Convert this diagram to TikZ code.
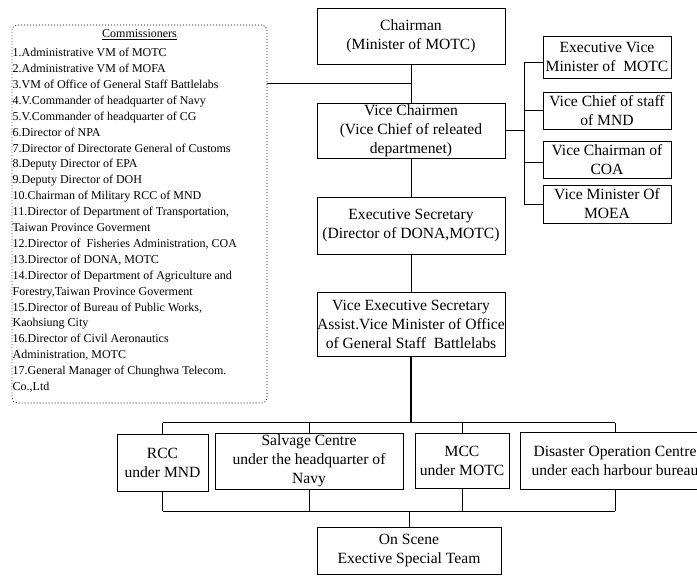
\documentclass[tikz,border=0pt]{standalone}
\usepackage{fontspec}
\setmainfont{Liberation Serif}
\tikzset{
  box/.style={draw=black, line width=0.8pt, inner sep=0pt, align=center,
    font=\fontsize{15.6}{19}\selectfont},
  link/.style={draw=black, line width=0.8pt},
  boldlink/.style={draw=black, line width=1.7pt},
  dotbox/.style={draw=black, line width=0.8pt, dash pattern=on 0.9pt off 2.1pt,
    rounded corners=5pt, inner sep=0pt},
  listtext/.style={inner sep=0pt, align=left, font=\fontsize{12}{15.9}\selectfont}
}
\begin{document}
\begin{tikzpicture}[x=1pt, y=-1pt]
\useasboundingbox (0,0) rectangle (697,576);

% commissioners panel
\node[dotbox, minimum width=255pt, minimum height=378pt] (comm) at (139.5,214) {};
\node[listtext] (commtitle) at (139.5,35) {\underline{Commissioners}};
\node[listtext, anchor=north west] (commlist) at (12.5,48) {%
1.Administrative VM of MOTC\\
2.Administrative VM of MOFA\\
3.VM of Office of General Staff Battlelabs\\
4.V.Commander of headquarter of Navy\\
5.V.Commander of headquarter of CG\\
6.Director of NPA\\
7.Director of Directorate General of Customs\\
8.Deputy Director of EPA\\
9.Deputy Director of DOH\\
10.Chairman of Military RCC of MND\\
11.Director of Department of Transportation,\\
Taiwan Province Goverment\\
12.Director of\ \ Fisheries Administration, COA\\
13.Director of DONA, MOTC\\
14.Director of Department of Agriculture and\\
Forestry,Taiwan Province Goverment\\
15.Director of Bureau of Public Works,\\
Kaohsiung City\\
16.Director of Civil Aeronautics\\
Administration, MOTC\\
17.General Manager of Chunghwa Telecom.\\
Co.,Ltd};

% main chain
\node[box, minimum width=188pt, minimum height=56pt] (chair) at (411,36) {Chairman\\(Minister of MOTC)};
\node[box, minimum width=188pt, minimum height=55pt] (vch) at (411,130.5) {Vice Chairmen\\(Vice Chief of releated\\departmenet)};
\node[box, minimum width=188pt, minimum height=57pt] (es) at (411,225.5) {Executive Secretary\\(Director of DONA,MOTC)};
\node[box, minimum width=188pt, minimum height=64pt] (ves) at (411,324) {Vice Executive Secretary\\Assist.Vice Minister of Office\\of General Staff\ \ Battlelabs};

% vice chairmen group
\node[box, minimum width=128pt, minimum height=42pt] (ev) at (607,57) {Executive Vice\\Minister of\ \ MOTC};
\node[box, minimum width=128pt, minimum height=37pt] (vcs) at (607,110.5) {Vice Chief of staff\\of MND};
\node[box, minimum width=128pt, minimum height=37pt] (coa) at (607,159.5) {Vice Chairman of\\COA};
\node[box, minimum width=128pt, minimum height=38pt] (moea) at (607,204) {Vice Minister Of\\MOEA};

% operating units
\node[box, minimum width=91pt, minimum height=57pt] (rcc) at (162.5,462.5) {RCC\\under MND};
\node[box, minimum width=188pt, minimum height=56pt] (sal) at (309,461) {Salvage Centre\\under the headquarter of\\Navy};
\node[box, minimum width=94pt, minimum height=55pt] (mcc) at (462,460.5) {MCC\\under MOTC};
\node[box, minimum width=190pt, minimum height=57pt] (dis) at (615,460.5) {Disaster Operation Centre\\under each harbour bureau};
\node[box, minimum width=184pt, minimum height=47pt] (os) at (409,550.5) {On Scene\\Exective Special Team};

% junction points
\coordinate (jc) at (411,83);
\coordinate (rb) at (524,130.5);
\coordinate (rt) at (524,62);
\coordinate (rbot) at (524,204);
\coordinate (r2) at (524,110);
\coordinate (r3) at (524,162);
\coordinate (tb) at (411,422.5);
\coordinate (tl) at (162.5,422.5);
\coordinate (tr) at (615,422.5);
\coordinate (bb) at (409,511);
\coordinate (bl) at (162.5,511);
\coordinate (br) at (615,511);

% connectors of the main chain
\draw[link] (chair) -- (vch);
\draw[link] (comm.east |- jc) -- (jc);
\draw[link] (vch) -- (es);
\draw[link] (es) -- (ves);

% vice chairmen branch
\draw[boldlink] (vch.east) -- (rb);
\draw[link] (rt) -- (rbot);
\draw[link] (rt) -- (ev.west |- rt);
\draw[link] (r2) -- (vcs.west |- r2);
\draw[link] (r3) -- (coa.west |- r3);
\draw[link] (rbot) -- (moea.west |- rbot);

% distribution to operating units
\draw[boldlink] (ves.south) -- (tb);
\draw[link] (tl) -- (tr);
\draw[boldlink] (sal.north |- tb) -- (mcc.north |- tb);
\draw[link] (tl) -- (rcc.north);
\draw[link] (sal.north |- tb) -- (sal.north);
\draw[link] (mcc.north |- tb) -- (mcc.north);
\draw[link] (tr) -- (dis.north);

% collection to the on-scene team
\draw[link] (rcc.south) -- (bl);
\draw[link] (sal.south) -- (sal.south |- bb);
\draw[link] (mcc.south) -- (mcc.south |- bb);
\draw[link] (dis.south) -- (br);
\draw[link] (bl) -- (br);
\draw[link] (bb) -- (os.north);
\end{tikzpicture}
\end{document}
